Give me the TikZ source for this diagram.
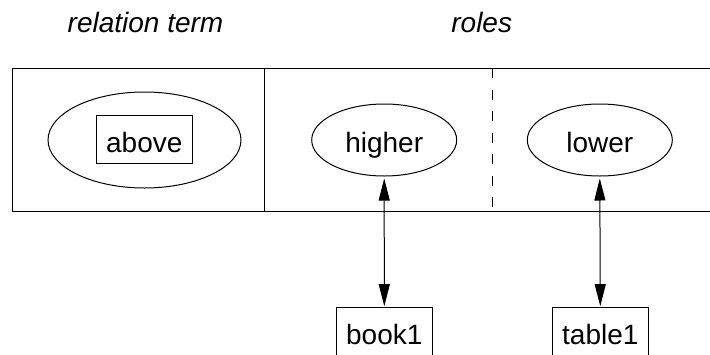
\documentclass[tikz,border=0pt]{standalone}
\usepackage{fontspec}
\setmainfont{Liberation Sans}
\usetikzlibrary{shapes.geometric,arrows.meta}
\begin{document}
\begin{tikzpicture}[x=1pt,y=-1pt,line width=1pt,
  every node/.style={font=\fontsize{28}{34}\selectfont, inner sep=0pt, text height=25.5pt, text depth=0pt},
  title/.style={font=\fontsize{28}{34}\selectfont\itshape, anchor=base},
  role/.style={draw, ellipse, minimum width=145pt, minimum height=72pt},
  termell/.style={draw, ellipse, minimum width=193pt, minimum height=96pt},
  objbox/.style={draw, rectangle, minimum width=96pt, minimum height=48pt},
  link/.style={{Triangle[length=22pt,width=11pt]}-{Triangle[length=22pt,width=11pt]}, line width=1pt, shorten <=2pt, shorten >=1pt}
]
\useasboundingbox (0,0) rectangle (710,354);
\clip (0,0) rectangle (710,354);
% titles
\node[title, text height=, text depth=] (t1) at (145.5,32.3) {relation term};
\node[title, text height=, text depth=] (t2) at (481.7,32.3) {roles};
% frame
\draw (720,68.3) -- (12.3,68.3) -- (12.3,211.7) -- (720,211.7);
\draw (264,68.3) -- (264,211.7);
\draw[dash pattern=on 10pt off 11.5pt] (492.3,68.3) -- (492.3,211.7);
% relation term
\node[termell] (termell) at (144.5,140) {};
\node[objbox] (above) at (144.3,139.8) {above};
% roles
\node[role] (higher) at (384.2,140) {higher};
\node[role] (lower) at (599.8,140) {lower};
% objects
\node[objbox] (book1) at (384.3,331.7) {book1};
\node[objbox] (table1) at (600.3,331.7) {table1};
% links
\draw[link] (higher.south) -- (book1.north);
\draw[link] (lower.south) -- (table1.north);
\end{tikzpicture}
\end{document}
